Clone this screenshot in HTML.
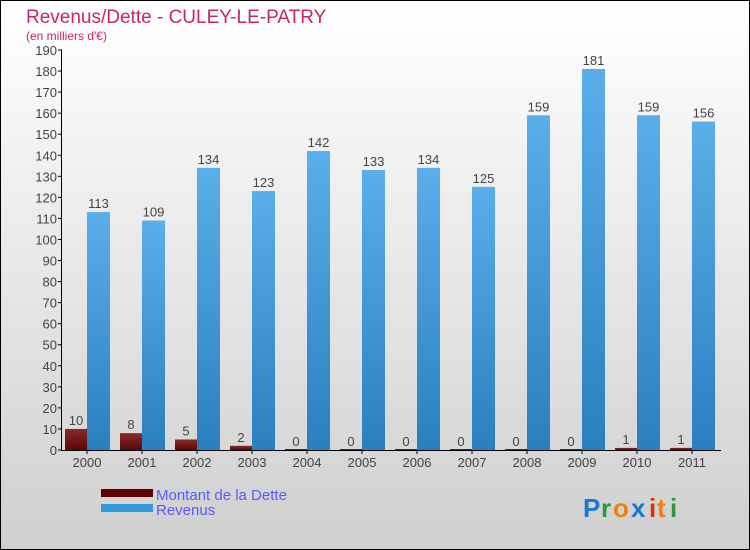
<!DOCTYPE html>
<html><head><meta charset="utf-8"><style>
body{margin:0}
#c{position:relative;width:748px;height:548px;border:1px solid #000;background:linear-gradient(#ffffff,#cfcfcf);font-family:"Liberation Sans",sans-serif;overflow:hidden}
</style></head><body>
<div id="c">
<svg id="s" width="748" height="548" xmlns="http://www.w3.org/2000/svg">
<defs>
<linearGradient id="gb" x1="0" y1="0" x2="0" y2="1"><stop offset="0" stop-color="#5aaeea"/><stop offset="1" stop-color="#2a7fbe"/></linearGradient>
<linearGradient id="gr" x1="0" y1="0" x2="0" y2="1"><stop offset="0" stop-color="#8a2a2a"/><stop offset="1" stop-color="#5a0505"/></linearGradient>
</defs>
<text x="25" y="22" font-size="19" fill="#c8285a">Revenus/Dette - CULEY-LE-PATRY</text>
<text x="25" y="39" font-size="12" fill="#c8285a">(en milliers d'€)</text>
<g id="plot"></g>
<rect x="100" y="488" width="52" height="8" fill="#600000"/>
<text x="155" y="499" font-size="15" fill="#5a5aff">Montant de la Dette</text>
<rect x="100" y="503" width="52" height="8" fill="#3399dd"/>
<text x="155" y="514" font-size="15" fill="#5a5aff">Revenus</text>
<g font-size="26" font-weight="bold">
<text x="582" y="516" fill="#1a78d0">P</text><text x="600" y="516" fill="#2a9a3a">r</text><text x="612" y="516" fill="#f08010">o</text><text x="630" y="516" fill="#1a78d0">x</text><text x="648" y="516" fill="#e03010">i</text><text x="656" y="516" fill="#f08010">t</text><text x="669" y="516" fill="#2a9a3a">i</text>
</g>
</svg>
</div>
<script>
const years=["2000","2001","2002","2003","2004","2005","2006","2007","2008","2009","2010","2011"];
const debt=[10,8,5,2,0,0,0,0,0,0,1,1];
const revenue=[113,109,134,123,142,133,134,125,159,181,159,156];
const yTicks=[0,10,20,30,40,50,60,70,80,90,100,110,120,130,140,150,160,170,180,190];
const NS="http://www.w3.org/2000/svg";
const g=document.getElementById('plot');
const y0=449,yTop=49,yMax=190;
function ys(v){return y0-(v/yMax)*(y0-yTop);}
function xs(i){return 86+55*i;}
function mk(t,a,txt){const e=document.createElementNS(NS,t);for(const k in a)e.setAttribute(k,a[k]);if(txt!==undefined)e.textContent=txt;g.appendChild(e);return e;}
yTicks.forEach(v=>{
  const l=mk('line',{x1:57,x2:61,y1:ys(v),y2:ys(v),stroke:'#000'});
  
  
  const t=mk('text',{x:56,y:ys(v)+5,'text-anchor':'end','font-size':13,fill:'#444'},v);
  
  
});
years.forEach((yr,i)=>{
  const x=xs(i);
  const hd=y0-ys(debt[i]);
  const b1=mk('rect',{x:x-22,y:ys(debt[i])-(debt[i]===0?1:0),width:22,height:Math.max(hd,1),fill:'url(#gr)'});
  
  
  const b2=mk('rect',{x:x,y:ys(revenue[i]),width:23,height:y0-ys(revenue[i]),fill:'url(#gb)'});
  
  
  const t1=mk('text',{x:x-11,y:ys(debt[i])-4,'text-anchor':'middle','font-size':13,fill:'#444'},debt[i]);
  
  
  const t2=mk('text',{x:x+11.5,y:ys(revenue[i])-4,'text-anchor':'middle','font-size':13,fill:'#444'},revenue[i]);
  
  
  const tk=mk('line',{x1:x,x2:x,y1:y0,y2:y0+4,stroke:'#000'});
  
  
  const xl=mk('text',{x:x,y:y0+17,'text-anchor':'middle','font-size':13,fill:'#444'},yr);
  
  
});
const ya=mk('line',{x1:60.5,x2:60.5,y1:yTop,y2:y0,stroke:'#000'});


const xa=mk('line',{x1:60,x2:720,y1:y0+0.5,y2:y0+0.5,stroke:'#000'});


</script>
</body></html>
